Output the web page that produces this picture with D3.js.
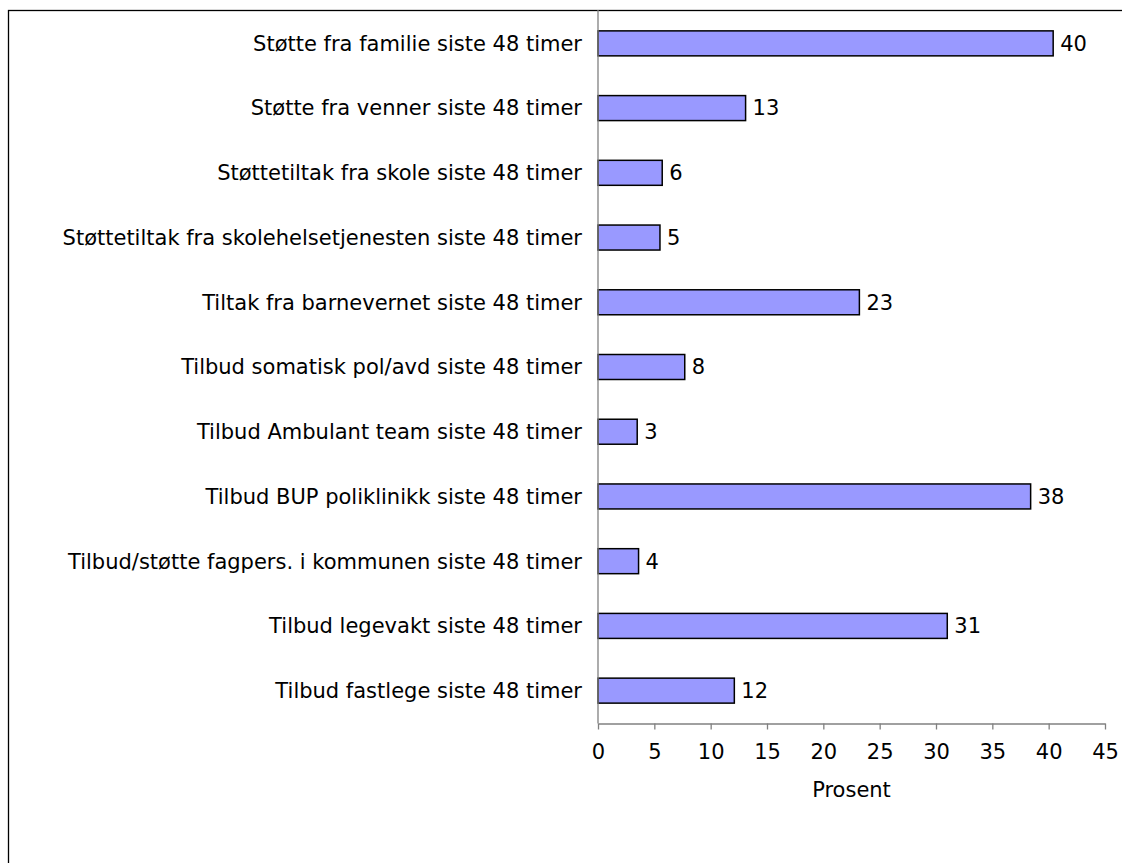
<!DOCTYPE html>
<html><head><meta charset="utf-8">
<script src="https://cdn.jsdelivr.net/npm/d3@7"></script>
<style>html,body{margin:0;padding:0;background:#fff;}svg{display:block;}</style>
</head><body>
<svg id="chart" width="1122" height="863"></svg>
<script>
const categories = [
  "Støtte fra familie siste 48 timer",
  "Støtte fra venner siste 48 timer",
  "Støttetiltak fra skole siste 48 timer",
  "Støttetiltak fra skolehelsetjenesten siste 48 timer",
  "Tiltak fra barnevernet siste 48 timer",
  "Tilbud somatisk pol/avd siste 48 timer",
  "Tilbud Ambulant team siste 48 timer",
  "Tilbud BUP poliklinikk siste 48 timer",
  "Tilbud/støtte fagpers. i kommunen siste 48 timer",
  "Tilbud legevakt siste 48 timer",
  "Tilbud fastlege siste 48 timer"
];
const values = [40.4, 13.1, 5.7, 5.5, 23.2, 7.7, 3.48, 38.4, 3.6, 31.0, 12.1];
const valueLabels = ["40", "13", "6", "5", "23", "8", "3", "38", "4", "31", "12"];
const xTicks = [0, 5, 10, 15, 20, 25, 30, 35, 40, 45];
const xTitle = "Prosent";

const svg = d3.select("#chart");
const font = "'DejaVu Sans', Verdana, sans-serif";
const fs = 21;

// outer frame
svg.append("rect").attr("x", 8.5).attr("y", 10.5).attr("width", 1130).attr("height", 870)
  .attr("fill", "none").attr("stroke", "#000").attr("stroke-width", 1.3);

const x = d3.scaleLinear().domain([0, 45]).range([598, 1105]);
const y = d3.scaleBand().domain(categories).range([11, 723]).paddingInner(0.614).paddingOuter(0.307);

// bars
svg.append("g").selectAll("rect").data(categories).join("rect")
  .attr("x", x(0))
  .attr("y", d => y(d))
  .attr("width", (d, i) => x(values[i]) - x(0))
  .attr("height", y.bandwidth())
  .attr("fill", "#9999ff")
  .attr("stroke", "#000")
  .attr("stroke-width", 1.5);

// value labels
svg.append("g").selectAll("text").data(categories).join("text")
  .attr("x", (d, i) => x(values[i]) + 7)
  .attr("y", d => y(d) + y.bandwidth() / 2)
  .attr("dy", "0.35em")
  .attr("font-family", font).attr("font-size", fs).attr("fill", "#000")
  .text((d, i) => valueLabels[i]);

// y axis
const yAxis = d3.axisLeft(y).tickSize(0).tickPadding(16);
const gy = svg.append("g").attr("transform", `translate(${x(0)},0)`).call(yAxis);
gy.select(".domain").remove();
gy.selectAll("text").attr("font-family", font).attr("font-size", fs).attr("fill", "#000").attr("dy", "0.35em");
svg.append("line").attr("x1", x(0)).attr("x2", x(0)).attr("y1", 10).attr("y2", 723.5)
  .attr("stroke", "#808080").attr("stroke-width", 1.3);

// x axis
const xAxis = d3.axisBottom(x).tickValues(xTicks).tickSize(6).tickSizeOuter(0).tickPadding(15);
const gx = svg.append("g").attr("transform", "translate(0,723.5)").call(xAxis);
gx.select(".domain").attr("stroke", "#808080").attr("stroke-width", 1.3);
gx.selectAll(".tick line").attr("stroke", "#808080").attr("stroke-width", 1.3);
gx.selectAll("text").attr("font-family", font).attr("font-size", fs).attr("fill", "#000");

svg.append("text").attr("x", (x(0) + x(45)) / 2).attr("y", 797)
  .attr("text-anchor", "middle").attr("font-family", font).attr("font-size", fs).attr("fill", "#000")
  .text(xTitle);
</script>
</body></html>
